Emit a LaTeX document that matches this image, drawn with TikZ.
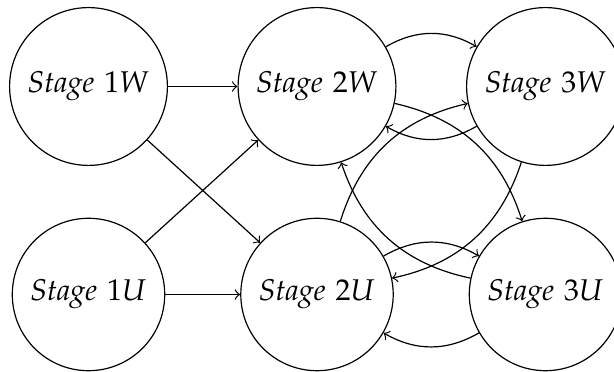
\documentclass[tikz,border=0pt]{standalone}
\usepackage{mathpazo}
\begin{document}
\begin{tikzpicture}[x=0.3333pt, y=-0.3333pt, line width=0.4pt,
  every node/.style={font=\fontsize{10}{12}\selectfont},
  stagew/.style={circle, draw, inner sep=0pt, minimum size=52.6pt},
  stageu/.style={circle, draw, inner sep=0pt, minimum size=50.8pt},
  link/.style={->}]
\useasboundingbox (0,0) rectangle (614,372);
% stages of the W line (top row)
\node[stagew] (w1) at (88.5,86.5) {$\mathit{Stage}~1W$};
\node[stagew] (w2) at (317,86.5) {$\mathit{Stage}~2W$};
\node[stagew] (w3) at (545.5,86.5) {$\mathit{Stage}~3W$};
% stages of the U line (bottom row)
\node[stageu] (u1) at (88.5,294.5) {$\mathit{Stage}~1U$};
\node[stageu] (u2) at (317,294.5) {$\mathit{Stage}~2U$};
\node[stageu] (u3) at (545.5,294.5) {$\mathit{Stage}~3U$};
% first to second stage
\draw[link] (w1) -- (w2);
\draw[link] (w1) -- (u2);
\draw[link] (u1) -- (w2);
\draw[link] (u1) -- (u2);
% second and third stages, both directions
\draw[link] (w2) to[bend left] (w3);
\draw[link] (w3) to[bend left] (w2);
\draw[link] (w2) to[bend left] (u3);
\draw[link] (u3) to[bend left] (w2);
\draw[link] (u2) to[bend left] (w3);
\draw[link] (w3) to[bend left] (u2);
\draw[link] (u2) to[bend left] (u3);
\draw[link] (u3) to[bend left] (u2);
\end{tikzpicture}
\end{document}
